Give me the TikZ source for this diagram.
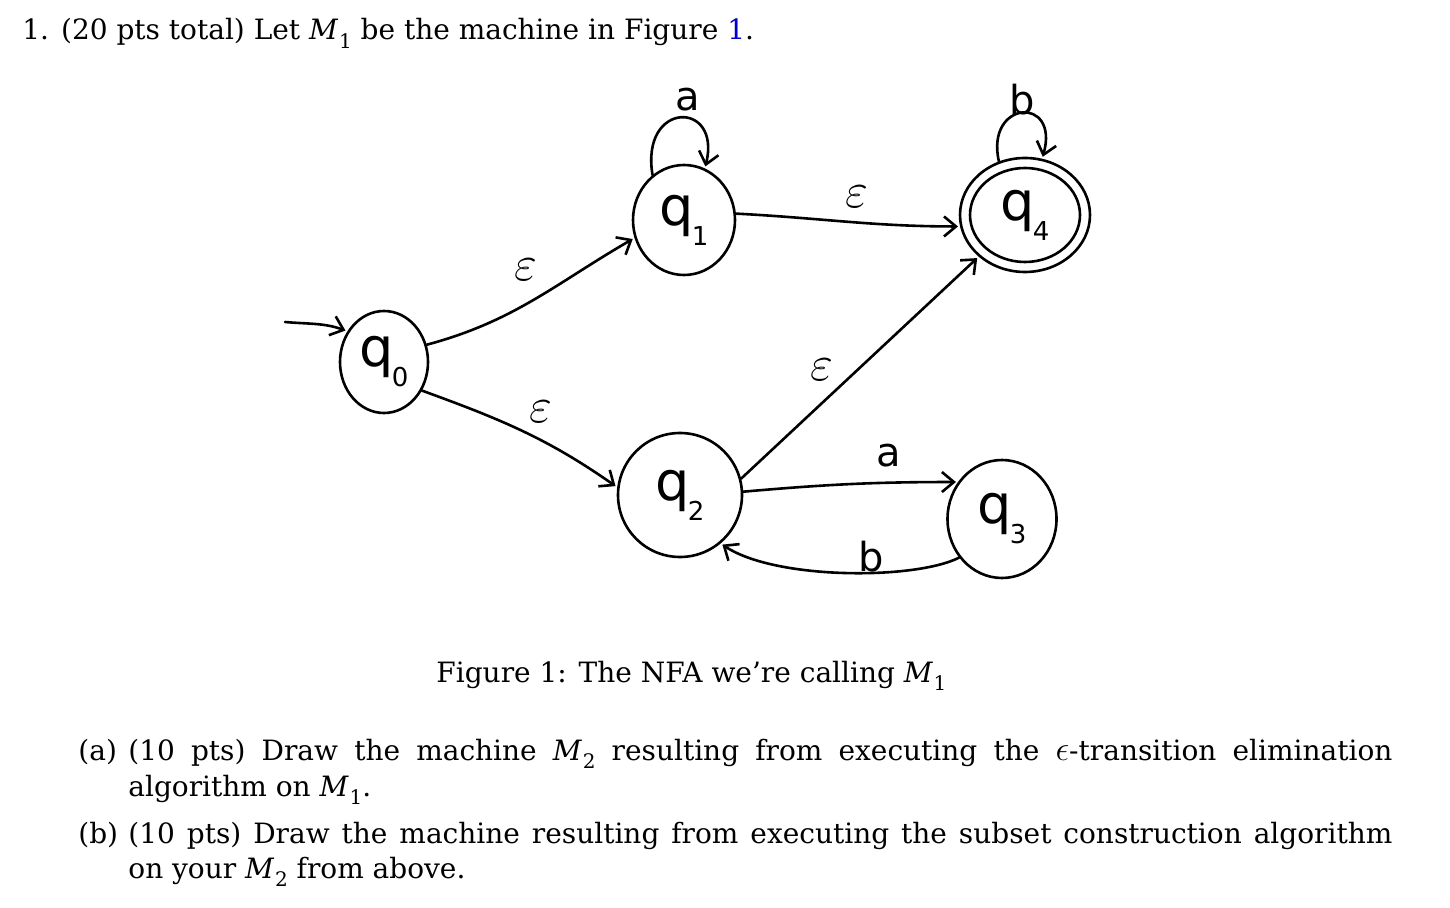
\documentclass[tikz,border=0pt]{standalone}
\usepackage{fontspec}
\usetikzlibrary{arrows.meta,shapes.geometric}
\setmainfont{DejaVu Serif}
\newfontfamily\handfont{DejaVu Sans}
\definecolor{linkblue}{rgb}{0,0,0.8}
\newcommand\qlab[1]{{\handfont\fontsize{27}{27}\selectfont q\kern-1pt\raisebox{-10pt}{\fontsize{13}{13}\selectfont #1}}}
\newcommand\Msub[1]{\textit{M}\kern0.3pt\raisebox{-0.3em}{\fontsize{10}{10}\selectfont #1}}
\begin{document}
\begin{tikzpicture}[x=0.5pt,y=-0.5pt,
  ln/.style={line width=1.3pt, line cap=round, line join=round},
  st/.style={ellipse, draw, ln, inner sep=0pt},
  tr/.style={ln, -{Straight Barb[length=6pt,width=10pt,line width=1.3pt]}, shorten >=1pt},
  lab/.style={font=\handfont\fontsize{20}{20}\selectfont, inner sep=0pt},
  eps/.style={font=\fontsize{26}{26}\selectfont, inner sep=0pt},
  txt/.style={anchor=base west, inner sep=0pt, font=\fontsize{14}{18}\selectfont}
]
\useasboundingbox (0,0) rectangle (1450,908);

% text
\node[txt] (l1) at (22,40) {1.\hspace{6pt}(20 pts total) Let \Msub{1} be the machine in Figure {\color{linkblue}1}.};
\node[txt] (cap) at (436,682) {Figure 1: The NFA we're calling \Msub{1}};
\node[txt] (a1) at (78,760) {(a)};
\node[txt] (a2) at (128,760) {\makebox[632pt][s]{(10 pts) Draw the machine \Msub{2} resulting from executing the {\fontsize{16}{16}\selectfont$\epsilon$}-transition elimination}};
\node[txt] (a3) at (128,796) {algorithm on \Msub{1}.};
\node[txt] (b1) at (78,843) {(b)};
\node[txt] (b2) at (128,843) {\makebox[632pt][s]{(10 pts) Draw the machine resulting from executing the subset construction algorithm}};
\node[txt] (b3) at (128,878) {on your \Msub{2} from above.};

% states
\node[st, minimum width=44pt, minimum height=51pt] (q0) at (384,362) {\qlab{0}};
\node[st, minimum width=51pt, minimum height=55pt] (q1) at (684,220) {\qlab{1}};
\node[st, minimum width=65pt, minimum height=57pt] (q4) at (1025,215) {};
\node[st, minimum width=55pt, minimum height=47pt] (q4in) at (1025,215) {\qlab{4}};
\node[st, minimum width=62pt, minimum height=62pt] (q2) at (680,495) {\qlab{2}};
\node[st, minimum width=54.5pt, minimum height=59pt] (q3) at (1002,519) {\qlab{3}};

% start
\coordinate (init) at (285,322);
\draw[tr] (init) to[out=-5,in=160] (q0.140);

% transitions
\draw[tr] (q0.22) to[out=15,in=210] (q1.200);
\draw[tr] (q0.-37) to[out=-20,in=145] (q2.173);
\draw[tr] (q1.7) to[out=-3,in=180] (q4.190);
\draw[tr] (q2.15) -- (q4.222);
\draw[tr] (q2.3) to[out=5,in=180] (q3.140);
\draw[tr] (q3.222) .. controls (915,580) and (775,580) .. (q2.-50);
\draw[tr] (q1.125) .. controls (640,100) and (722,100) .. (q1.68);
\draw[tr] (q4.116) .. controls (985,100) and (1060,95) .. (q4.73);

% labels
\node[eps] (e01) at (526,270) {$\varepsilon$};
\node[eps] (e02) at (541,412) {$\varepsilon$};
\node[eps] (e14) at (857,197) {$\varepsilon$};
\node[eps] (e24) at (822,370) {$\varepsilon$};
\node[lab] (a23) at (889,456) {a};
\node[lab] (b32) at (871,557) {b};
\node[lab] (a11) at (688,100) {a};
\node[lab] (b44) at (1022,100) {b};
\end{tikzpicture}
\end{document}
